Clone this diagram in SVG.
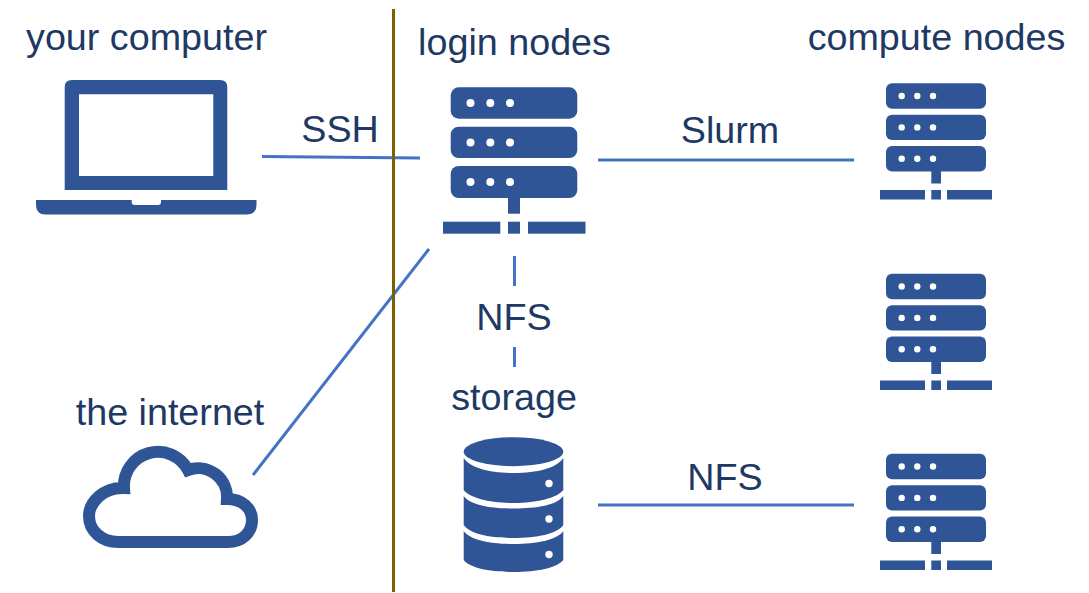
<svg xmlns="http://www.w3.org/2000/svg" width="1089" height="593" viewBox="0 0 1089 593">
<style>
.t{font-family:"Liberation Sans",Arial,sans-serif;font-size:37.700px;fill:#203864;text-anchor:middle}
.c{stroke:#4472c4;stroke-width:3;fill:none}
.i{fill:#2f5597}
.d{fill:#fff}
</style>
<defs>
<g id="srv">
<rect class="i" x="886" y="83.3" width="100" height="25.4" rx="6"/>
<rect class="i" x="886" y="114.7" width="100" height="25.4" rx="6"/>
<rect class="i" x="886" y="146" width="100" height="25.4" rx="6"/>
<circle class="d" cx="901.7" cy="96" r="3.2"/><circle class="d" cx="917.3" cy="96" r="3.2"/><circle class="d" cx="933" cy="96" r="3.2"/>
<circle class="d" cx="901.7" cy="127.4" r="3.2"/><circle class="d" cx="917.3" cy="127.4" r="3.2"/><circle class="d" cx="933" cy="127.4" r="3.2"/>
<circle class="d" cx="901.7" cy="158.7" r="3.2"/><circle class="d" cx="917.3" cy="158.7" r="3.2"/><circle class="d" cx="933" cy="158.7" r="3.2"/>
<rect class="i" x="931.3" y="171" width="9.7" height="12.5"/>
<rect class="i" x="880" y="190" width="45" height="9.5"/>
<rect class="i" x="931.3" y="190" width="9.7" height="9.5"/>
<rect class="i" x="947" y="190" width="45" height="9.5"/>
</g>
</defs>
<rect width="1089" height="593" fill="#fff"/>
<g id="connectors">
<path class="c" d="M262 156.500L420 158"/>
<path class="c" d="M598 160H854"/>
<path class="c" d="M598 505H854"/>
<path class="c" d="M514.500 256V286"/>
<path class="c" d="M514.500 347V367"/>
<path class="c" d="M253 475L429 249"/>
<path d="M393.500 9V592" stroke="#7f6000" stroke-width="3" fill="none"/>
</g>
<g id="your-computer">
<path class="i" fill-rule="evenodd" d="M72 80H220Q227.300 80 227.300 87V190H64.700V87Q64.700 80 72 80ZM79 94.300V176H213.300V94.300Z"/>
<path class="i" d="M36 200H131.700V202Q131.700 205 134.700 205H158Q161 205 161 202V200H256.500V205Q256.500 214.500 247 214.500H45.500Q36 214.500 36 205Z"/>
<text class="t" x="146.500" y="50">your computer</text>
</g>
<g id="login-nodes">
<rect class="i" x="450.700" y="87.300" width="126.600" height="31.400" rx="8"/>
<rect class="i" x="450.700" y="126.700" width="126.600" height="31.400" rx="8"/>
<rect class="i" x="450.700" y="166" width="126.600" height="32" rx="8"/>
<circle class="d" cx="470.500" cy="103" r="4"/><circle class="d" cx="490.300" cy="103" r="4"/><circle class="d" cx="510" cy="103" r="4"/>
<circle class="d" cx="470.500" cy="142.500" r="4"/><circle class="d" cx="490.300" cy="142.500" r="4"/><circle class="d" cx="510" cy="142.500" r="4"/>
<circle class="d" cx="470.500" cy="182" r="4"/><circle class="d" cx="490.300" cy="182" r="4"/><circle class="d" cx="510" cy="182" r="4"/>
<rect class="i" x="508" y="198" width="12" height="15.700"/>
<rect class="i" x="443" y="221.700" width="57.300" height="12"/>
<rect class="i" x="508" y="221.700" width="12" height="12"/>
<rect class="i" x="528" y="221.700" width="57.500" height="12"/>
<text class="t" x="514.500" y="55">login nodes</text>
</g>
<g id="compute-nodes-1"><use href="#srv"/><text class="t" x="936.500" y="50">compute nodes</text></g>
<g id="compute-nodes-2"><use href="#srv" y="190.500"/></g>
<g id="compute-nodes-3"><use href="#srv" y="370.500"/></g>
<g id="internet">
<path d="M118 542H228C242 542 252 533 252 520C252 508 242 499 227 499A29 29 0 0 0 188 470A34 34 0 0 0 124 488C104 487 89 502 89 516C89 531 102 542 118 542Z" fill="none" stroke="#2f5597" stroke-width="12" stroke-linejoin="miter"/>
<text class="t" x="170" y="425">the internet</text>
</g>
<g id="storage">
<ellipse class="i" cx="513.500" cy="451.700" rx="49.800" ry="14.500"/>
<path class="i" d="M463.700 458C470 468 490 473 513.500 473C537 473 557 468 563.300 458V490C557 498 537 503 513.500 503C490 503 470 498 463.700 490Z"/>
<path class="i" d="M463.700 496C470 505 490 508.500 513.500 508.500C537 508.500 557 505 563.300 496V525C557 534 537 538 513.500 538C490 538 470 534 463.700 525Z"/>
<path class="i" d="M463.700 531C470 540 490 544 513.500 544C537 544 557 540 563.300 531V560C557 568 537 572 513.500 572C490 572 470 568 463.700 560Z"/>
<circle class="d" cx="549" cy="483.500" r="3.700"/><circle class="d" cx="549" cy="519" r="3.700"/><circle class="d" cx="549" cy="554.500" r="3.700"/>
<text class="t" x="514" y="410">storage</text>
</g>
<g id="labels">
<text class="t" x="340" y="142">SSH</text>
<text class="t" x="730" y="143">Slurm</text>
<text class="t" x="514" y="330">NFS</text>
<text class="t" x="725" y="490">NFS</text>
</g>
</svg>
